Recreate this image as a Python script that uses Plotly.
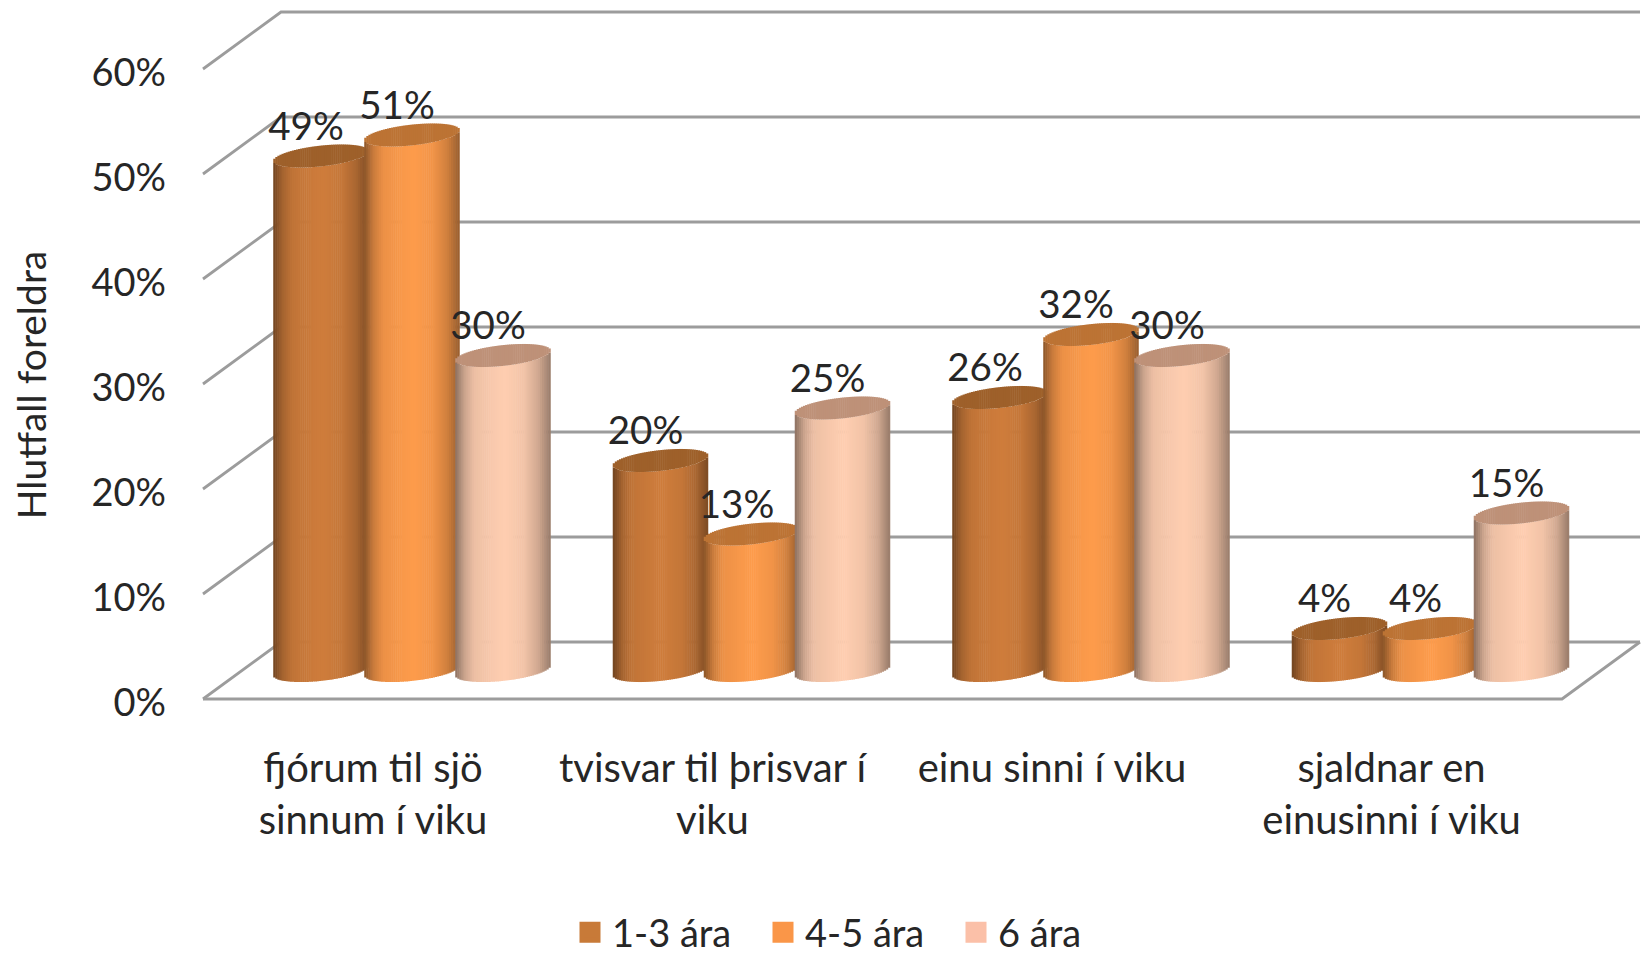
import math
import plotly.graph_objects as go

# ---- data ----
categories = ["fjórum til sjö<br>sinnum í viku", "tvisvar til þrisvar í<br>viku",
              "einu sinni í viku", "sjaldnar en<br>einusinni í viku"]
series_names = ["1-3 ára", "4-5 ára", "6 ára"]
values_1_3 = [49, 20, 26, 4]
values_4_5 = [51, 13, 32, 4]
values_6 = [30, 25, 30, 15]
y_ticks = [0, 10, 20, 30, 40, 50, 60]
y_ticklabels = ["0%", "10%", "20%", "30%", "40%", "50%", "60%"]
y_title = "Hlutfall foreldra"

# ---- style ----
W, H = 1642, 956
FONT = "Lato"
TXT = "#262626"
GRID = "#9c9c9c"
PLOT_L, PLOT_B = 167, 770
PX_PER_CAT = 339.5
PX_PER_PCT = 10.5
CAT0_PX = 412
ZERO_PX = 670.5
STEP = 91 / PX_PER_CAT
RADIUS = 47.5 / PX_PER_CAT
DEPTH = 28.5 / PX_PER_PCT      # half of the floor depth, in % units
SKEW = 39 / PX_PER_CAT         # half of the floor skew, in category units
TILT = 5.0 / PX_PER_PCT
ELL = 10.4 / PX_PER_PCT
STRIPS = 46
TICK_NUDGE = 4 / PX_PER_PCT    # optical centring of the tick label font

body_colors = [(207, 125, 60), (254, 156, 76), (255, 206, 177)]
cap_colors = [(158, 96, 42), (188, 115, 52), (190, 145, 120)]
legend_colors = ["#C87A38", "#FA9648", "#FBC0A8"]
all_values = [values_1_3, values_4_5, values_6]
LIGHT_U = [-1, -0.8, -0.6, -0.2, 0.05, 0.45, 0.75, 1]
LIGHT_K = [0.55, 0.8, 0.93, 0.98, 1, 0.95, 0.82, 0.6]


def shade(rgb, u):
    # cylinder lighting: dark rim, bright near the centre
    for i in range(len(LIGHT_U) - 1):
        if u <= LIGHT_U[i + 1]:
            f = (u - LIGHT_U[i]) / (LIGHT_U[i + 1] - LIGHT_U[i])
            k = LIGHT_K[i] + f * (LIGHT_K[i + 1] - LIGHT_K[i])
            break
    return "rgb(%d,%d,%d)" % tuple(c * k for c in rgb)


fig = go.Figure()
sw = 2 * RADIUS / STRIPS
for s, vals in enumerate(all_values):
    bb, by, bc, cb, cy, cc = [], [], [], [], [], []
    xs = []
    for g, v in enumerate(vals):
        cx = g + (s - 1) * STEP
        for j in range(STRIPS):
            u = -1 + (j + 0.5) * 2 / STRIPS
            e = ELL * math.sqrt(1 - u * u)
            t = TILT * u
            xs.append(cx + u * RADIUS)
            bb.append(t - e)
            by.append(v)
            bc.append(shade(body_colors[s], u))
            cb.append(v + t - e)
            cy.append(2 * e)
            cc.append("rgb(%d,%d,%d)" % cap_colors[s])
    fig.add_bar(x=xs, y=by, base=bb, width=sw * 1.25, marker=dict(color=bc, line_width=0),
                showlegend=False, hoverinfo="skip")
    fig.add_bar(x=xs, y=cy, base=cb, width=sw * 1.25, marker=dict(color=cc, line_width=0),
                showlegend=False, hoverinfo="skip")

# data labels
lab_x, lab_y, lab_t = [], [], []
for s, vals in enumerate(all_values):
    for g, v in enumerate(vals):
        lab_x.append(g + (s - 1) * STEP - 15 / PX_PER_CAT)
        lab_y.append(v + 26 / PX_PER_PCT)
        lab_t.append(f"{v}%")
fig.add_scatter(x=lab_x, y=lab_y, text=lab_t, mode="text", textposition="middle center",
                textfont=dict(family=FONT, size=38.5, color=TXT), showlegend=False,
                hoverinfo="skip", cliponaxis=False)

# legend entries
for name, col in zip(series_names, legend_colors):
    fig.add_scatter(x=[None], y=[None], mode="markers", name=name,
                    marker=dict(symbol="square", size=16, color=col, line=dict(width=5, color=col)))

# 3-D walls and floor, on the chart's own scales
x_left = (203 - CAT0_PX) / PX_PER_CAT
x_back = x_left + 2 * SKEW
x_end = (1640 - CAT0_PX) / PX_PER_CAT
x_front_end = x_end - 2 * SKEW
shapes = []
gl = dict(color=GRID, width=2.8)
for v in y_ticks:
    shapes.append(dict(type="path", layer="below", line=gl,
                       path=f"M {x_left} {v - DEPTH} L {x_back} {v + DEPTH} L {x_end} {v + DEPTH}"))
shapes.append(dict(type="path", layer="below", line=gl,
                   path=f"M {x_left} {-DEPTH} L {x_front_end} {-DEPTH} L {x_end} {DEPTH}"))

fig.update_layout(
    width=W, height=H, margin=dict(l=PLOT_L, r=0, t=0, b=H - PLOT_B, pad=0),
    paper_bgcolor="white", plot_bgcolor="white",
    barmode="overlay", shapes=shapes,
    font=dict(family=FONT, color=TXT),
    xaxis=dict(range=[(PLOT_L - CAT0_PX) / PX_PER_CAT, (W - CAT0_PX) / PX_PER_CAT],
               tickvals=[i - SKEW for i in range(4)], ticktext=categories,
               showgrid=False, zeroline=False, showline=False, ticks="",
               anchor="free", position=(PLOT_B - 741) / PLOT_B, automargin=False,
               tickfont=dict(family=FONT, size=40, color=TXT), tickangle=0),
    yaxis=dict(range=[(ZERO_PX - PLOT_B) / PX_PER_PCT, ZERO_PX / PX_PER_PCT],
               tickvals=[v - DEPTH - TICK_NUDGE for v in y_ticks], ticktext=y_ticklabels,
               showgrid=False, zeroline=False, showline=False, ticks="", automargin=False,
               tickfont=dict(family=FONT, size=38, color=TXT),
               title=dict(text=y_title, font=dict(family=FONT, size=39, color=TXT), standoff=32)),
    legend=dict(orientation="h", xref="container", yref="container",
                x=568 / W, xanchor="left", y=1 - 901 / H, yanchor="top", maxheight=80,
                font=dict(family=FONT, size=38, color=TXT),
                itemwidth=34, entrywidth=144, entrywidthmode="pixels", bgcolor="rgba(0,0,0,0)"),
)

fig.write_html("out.html", config={"displayModeBar": False},
               post_script="document.body.style.margin='0';")
